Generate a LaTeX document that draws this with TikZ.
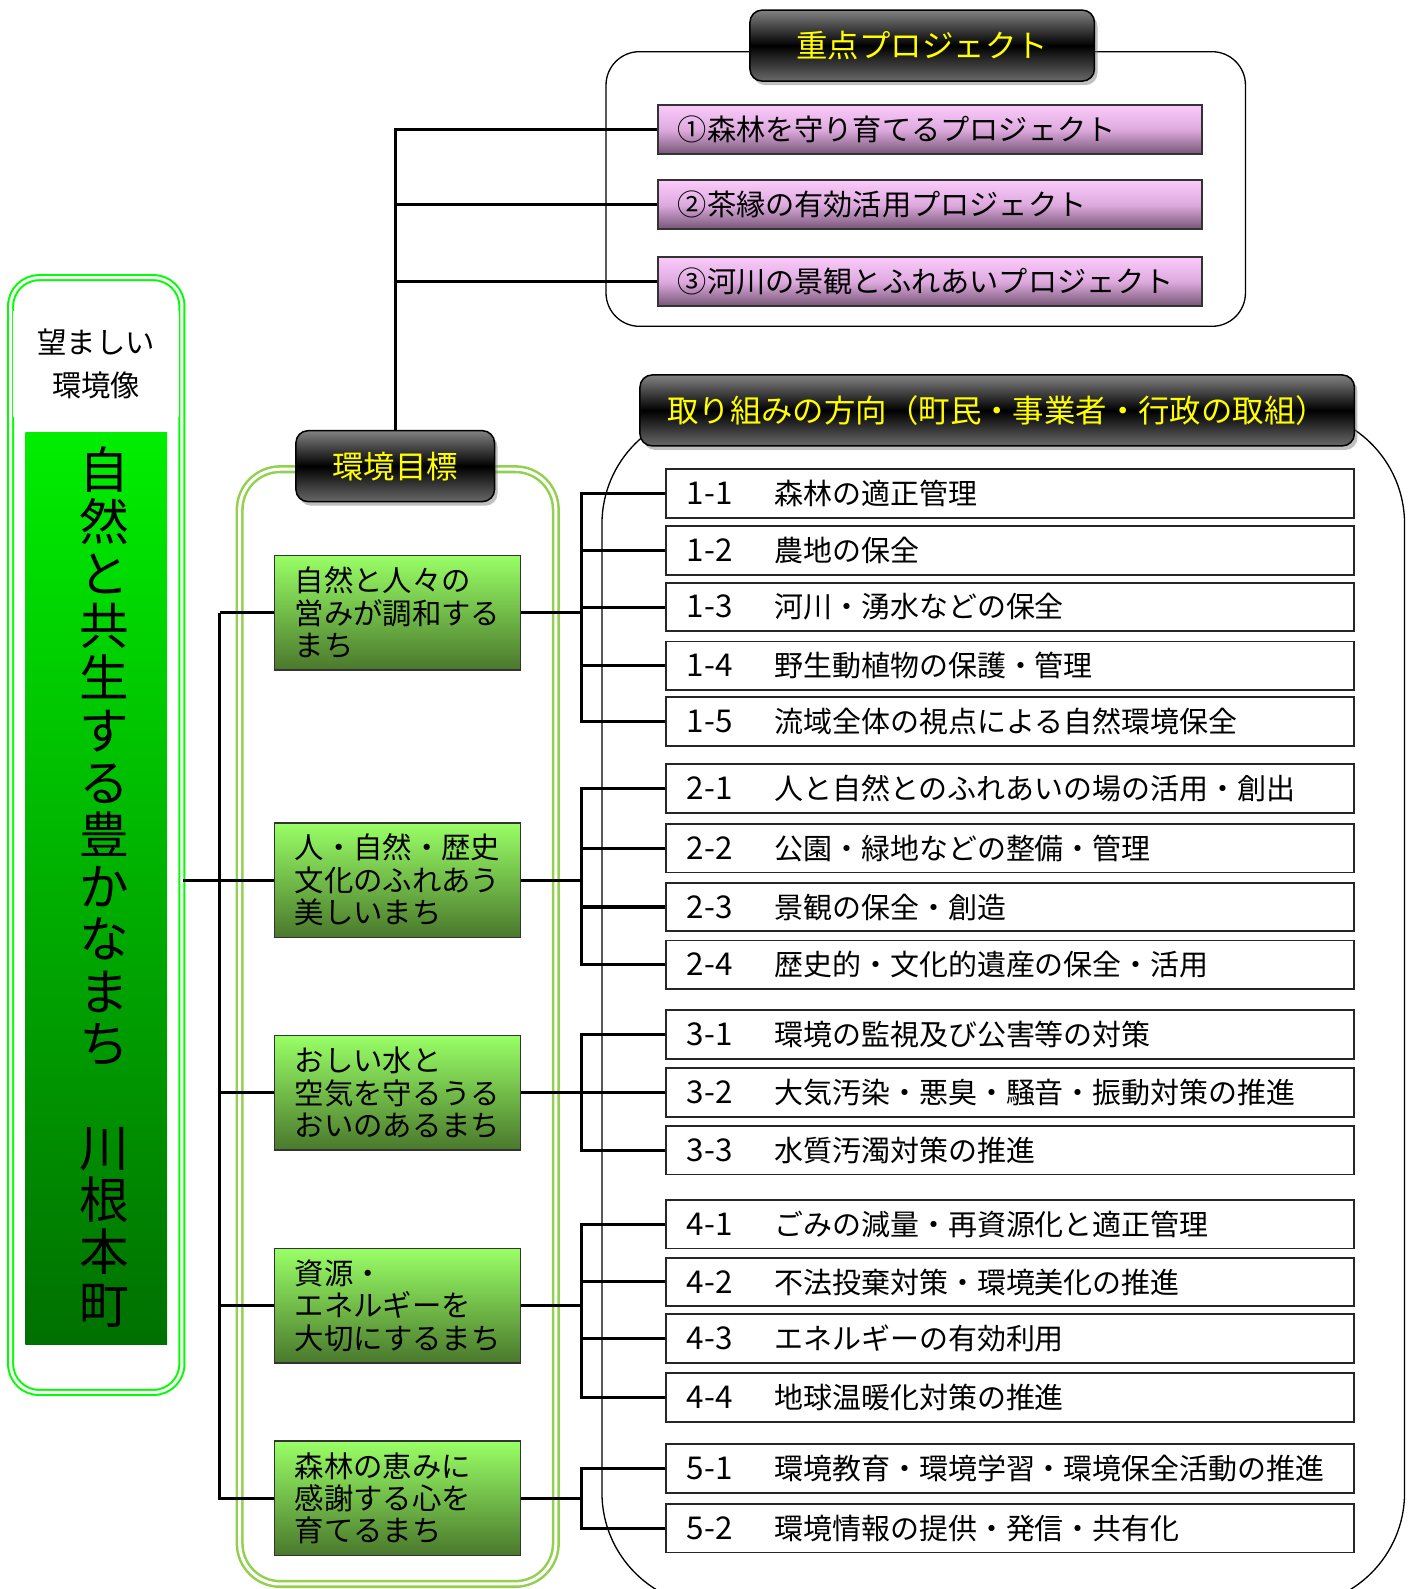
\documentclass[tikz,border=0pt]{standalone}
\usepackage{fontspec}
\setmainfont{Noto Sans CJK JP}
\usetikzlibrary{shadows}

\definecolor{kgreen}{RGB}{0,255,0}
\definecolor{lgreen}{RGB}{146,208,80}
\definecolor{barTop}{RGB}{0,238,0}
\definecolor{barBot}{RGB}{0,112,0}
\definecolor{goalTop}{RGB}{153,255,102}
\definecolor{goalBot}{RGB}{74,120,44}
\definecolor{projTop}{RGB}{250,202,250}
\definecolor{projMid}{RGB}{222,170,222}
\definecolor{projBot}{RGB}{118,86,118}
\definecolor{hdrTop}{RGB}{130,130,130}
\definecolor{hdrBot}{RGB}{105,105,105}
\definecolor{hdrText}{RGB}{255,255,0}

\tikzset{
  hdr/.style={draw=black, line width=1.5pt, rounded corners=12pt,
    top color=hdrTop, bottom color=hdrBot, middle color=black,
    text=hdrText, minimum height=70pt, font=\fontsize{31}{31}\selectfont,
    drop shadow={shadow xshift=3pt, shadow yshift=-4pt, opacity=.5}},
  goal/.style={draw=black!80, line width=1.5pt, anchor=west,
    top color=goalTop, bottom color=goalBot,
    text width=203pt, inner xsep=20pt, inner ysep=0pt, minimum height=113pt,
    align=left, font=\fontsize{29}{32}\selectfont},
  proj/.style={draw=black!80, line width=1.8pt, anchor=west,
    top color=projTop, bottom color=projBot, middle color=projMid,
    text width=497pt, inner xsep=20pt, inner ysep=0pt, minimum height=48pt,
    align=left, font=\fontsize{28.8}{30}\selectfont},
  item/.style={draw=black!85, line width=1.8pt, anchor=west,
    text width=637pt, inner xsep=21pt, inner ysep=0pt, minimum height=48pt,
    align=left, font=\fontsize{28.6}{30}\selectfont},
  link/.style={line width=3pt}
}
\newcommand{\itm}[2]{\makebox[86pt][l]{\fontsize{31}{30}\selectfont#1}#2}

\begin{document}
\begin{tikzpicture}[x=1pt,y=-1pt]
\clip (0,0) rectangle (1397,1568);
\fill[white] (0,0) rectangle (1397,1568);

\draw[line width=1.3pt, rounded corners=33pt] (598,51) rectangle (1229,322);
\draw[line width=1.3pt, rounded corners=112pt] (594,405) rectangle (1386,1585);
\draw[lgreen, double=white, line width=2.5pt, double distance=3pt, rounded corners=40pt] (236.5,463) rectangle (548.5,1563);

\node[draw=kgreen, double=white, line width=2pt, double distance=3pt, rounded corners=28pt,
  minimum width=169pt, minimum height=1100pt] (lbox) at (95,824) {};
\node[fill=white, minimum width=164pt, minimum height=105pt, align=center,
  font=\fontsize{29}{42}\selectfont] (lbl) at (95,359) {望ましい\\環境像};
\node[top color=barTop, bottom color=barBot, minimum width=140pt, minimum height=900pt, inner sep=0pt] (bar) at (95,877) {};
\node[align=center, font=\fontsize{49}{51.5}\selectfont] (vision) at (103,875)
  {自\\然\\と\\共\\生\\す\\る\\豊\\か\\な\\ま\\ち\\　\\川\\根\\本\\町};

\node[proj] (p1) at (648,128) {①森林を守り育てるプロジェクト};
\node[proj] (p2) at (648,202) {②茶縁の有効活用プロジェクト};
\node[proj] (p3) at (648,278) {③河川の景観とふれあいプロジェクト};

\node[goal] (g1) at (270,604.5) {自然と人々の\\営みが調和する\\まち};
\node[goal] (g2) at (270,868.5) {人・自然・歴史\\文化のふれあう\\美しいまち};
\node[goal] (g3) at (270,1078.5) {おしい水と\\空気を守るうる\\おいのあるまち};
\node[goal] (g4) at (270,1288.5) {資源・\\エネルギーを\\大切にするまち};
\node[goal] (g5) at (270,1478.5) {森林の恵みに\\感謝する心を\\育てるまち};

\node[item] (i11) at (656,487) {\itm{1-1}{森林の適正管理}};
\node[item] (i12) at (656,543) {\itm{1-2}{農地の保全}};
\node[item] (i13) at (656,599) {\itm{1-3}{河川・湧水などの保全}};
\node[item] (i14) at (656,657) {\itm{1-4}{野生動植物の保護・管理}};
\node[item] (i15) at (656,712) {\itm{1-5}{流域全体の視点による自然環境保全}};
\node[item] (i21) at (656,778) {\itm{2-1}{人と自然とのふれあいの場の活用・創出}};
\node[item] (i22) at (656,837) {\itm{2-2}{公園・緑地などの整備・管理}};
\node[item] (i23) at (656,895) {\itm{2-3}{景観の保全・創造}};
\node[item] (i24) at (656,952) {\itm{2-4}{歴史的・文化的遺産の保全・活用}};
\node[item] (i31) at (656,1021) {\itm{3-1}{環境の監視及び公害等の対策}};
\node[item] (i32) at (656,1078) {\itm{3-2}{大気汚染・悪臭・騒音・振動対策の推進}};
\node[item] (i33) at (656,1135) {\itm{3-3}{水質汚濁対策の推進}};
\node[item] (i41) at (656,1208) {\itm{4-1}{ごみの減量・再資源化と適正管理}};
\node[item] (i42) at (656,1265) {\itm{4-2}{不法投棄対策・環境美化の推進}};
\node[item] (i43) at (656,1321) {\itm{4-3}{エネルギーの有効利用}};
\node[item] (i44) at (656,1379) {\itm{4-4}{地球温暖化対策の推進}};
\node[item] (i51) at (656,1449) {\itm{5-1}{環境教育・環境学習・環境保全活動の推進}};
\node[item] (i52) at (656,1508) {\itm{5-2}{環境情報の提供・発信・共有化}};

\node[hdr, minimum width=340pt] (h1) at (910,45) {重点プロジェクト};
\node[hdr, minimum width=196pt] (h2) at (390,460) {環境目標};
\node[hdr, minimum width=705pt] (h3) at (984,405) {取り組みの方向（町民・事業者・行政の取組）};

\draw[link] (h2.north) |- (p1.west);
\draw[link] (h2.north) |- (p2.west);
\draw[link] (h2.north) |- (p3.west);

\coordinate (gt) at (217,604.5);
\draw[link] (lbox.east |- g2.west) -- (g2.west);
\draw[link] (gt) |- (g1.west);
\draw[link] (gt) |- (g2.west);
\draw[link] (gt) |- (g3.west);
\draw[link] (gt) |- (g4.west);
\draw[link] (gt) |- (g5.west);

\coordinate (j1) at (574,604.5);
\coordinate (j2) at (574,868.5);
\coordinate (j3) at (574,1078.5);
\coordinate (j4) at (574,1288.5);
\coordinate (j5) at (574,1478.5);
\draw[link] (g1.east) -- (j1);
\draw[link] (g2.east) -- (j2);
\draw[link] (g3.east) -- (j3);
\draw[link] (g4.east) -- (j4);
\draw[link] (g5.east) -- (j5);
\draw[link] (j1) |- (i11.west);
\draw[link] (j1) |- (i12.west);
\draw[link] (j1) |- (i13.west);
\draw[link] (j1) |- (i14.west);
\draw[link] (j1) |- (i15.west);
\draw[link] (j2) |- (i21.west);
\draw[link] (j2) |- (i22.west);
\draw[link] (j2) |- (i23.west);
\draw[link] (j2) |- (i24.west);
\draw[link] (j3) |- (i31.west);
\draw[link] (j3) |- (i32.west);
\draw[link] (j3) |- (i33.west);
\draw[link] (j4) |- (i41.west);
\draw[link] (j4) |- (i42.west);
\draw[link] (j4) |- (i43.west);
\draw[link] (j4) |- (i44.west);
\draw[link] (j5) |- (i51.west);
\draw[link] (j5) |- (i52.west);
\end{tikzpicture}
\end{document}
